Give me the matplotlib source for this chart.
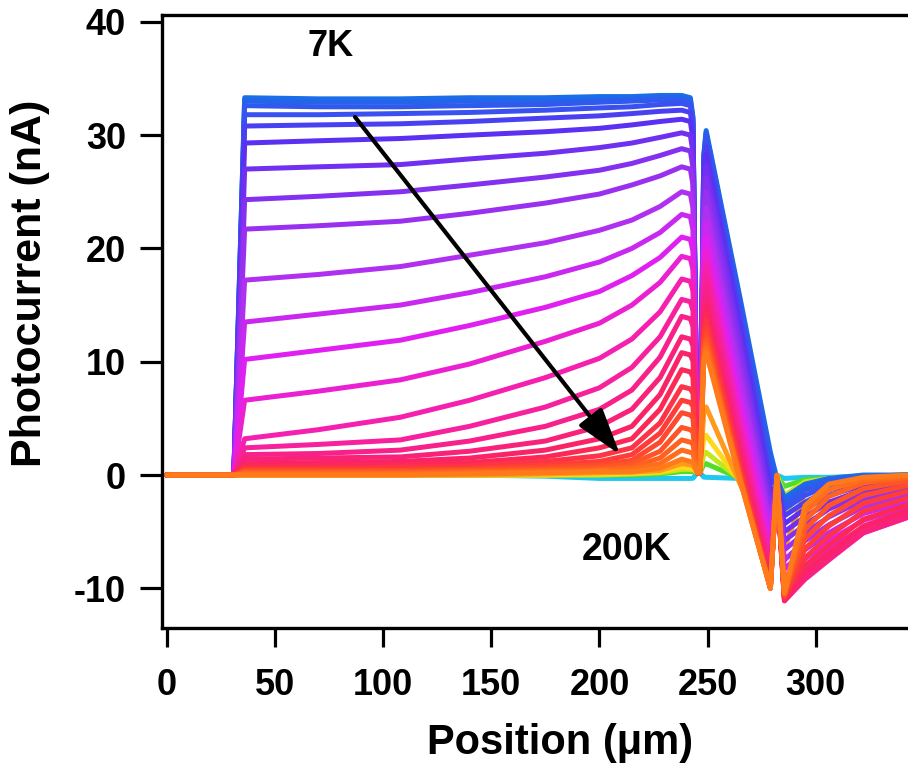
import matplotlib
matplotlib.use('Agg')
import matplotlib.pyplot as plt
from matplotlib.colors import LinearSegmentedColormap

# ---------------- data ----------------
# positions (µm) along the flat top part of each trace
x_plateau = [36, 70, 108, 140, 175, 200, 215, 228, 238, 242]
# positions (µm) of the second peak, the two dips and the tail
x_right = [249.3, 265, 279, 282, 285.5, 295, 306, 322, 343]

# 26 temperature traces (7K ... 200K) followed by 5 hot traces near zero
y_at_36 = [33.3, 33.0, 32.6, 31.8, 30.8, 29.3, 27.0, 24.3, 21.7, 17.2, 13.5, 10.2, 6.6,
           3.2, 2.4, 1.8, 1.4, 1.0, 0.8, 0.6, 0.5, 0.4, 0.3, 0.2, 0.1, 0.0,
           0.0, 0.0, 0.0, 0.0, 0.0]
y_at_70 = [33.2, 32.9, 32.5, 31.8, 30.9, 29.5, 27.2, 24.6, 22.0, 17.7, 14.2, 11.0, 7.4,
           4.0, 2.7, 1.9, 1.5, 1.1, 0.8, 0.6, 0.5, 0.4, 0.3, 0.2, 0.1, 0.0,
           0.0, 0.0, 0.0, 0.0, 0.0]
y_at_108 = [33.2, 32.9, 32.5, 31.9, 31.0, 29.7, 27.4, 25.0, 22.4, 18.4, 15.0, 11.9, 8.4,
            5.1, 3.1, 2.2, 1.6, 1.2, 0.9, 0.7, 0.5, 0.4, 0.3, 0.2, 0.1, 0.0,
            0.0, 0.0, 0.0, 0.0, 0.0]
y_at_140 = [33.3, 33.0, 32.6, 32.0, 31.2, 30.0, 27.9, 25.6, 23.1, 19.4, 16.1, 13.2, 9.8,
            6.6, 4.3, 3.0, 2.1, 1.5, 1.1, 0.8, 0.6, 0.5, 0.4, 0.3, 0.2, 0.1,
            0.0, 0.0, 0.0, 0.0, 0.0]
y_at_175 = [33.3, 33.0, 32.7, 32.2, 31.5, 30.3, 28.4, 26.3, 24.0, 20.5, 17.5, 14.8, 11.8,
            8.6, 6.0, 4.3, 3.0, 2.2, 1.6, 1.2, 0.9, 0.7, 0.5, 0.4, 0.3, 0.2,
            0.1, 0.0, 0.0, 0.0, -0.1]
y_at_200 = [33.4, 33.1, 32.9, 32.4, 31.7, 30.6, 28.9, 26.9, 24.8, 21.6, 18.8, 16.2, 13.4,
            10.3, 7.7, 5.8, 4.3, 3.2, 2.4, 1.7, 1.2, 0.9, 0.7, 0.5, 0.4, 0.3,
            0.2, 0.1, 0.0, 0.0, -0.3]
y_at_215 = [33.4, 33.2, 33.0, 32.5, 31.9, 30.9, 29.3, 27.5, 25.6, 22.5, 20.0, 17.6, 15.0,
            12.0, 9.5, 7.5, 5.8, 4.3, 3.2, 2.4, 1.8, 1.3, 1.0, 0.7, 0.5, 0.3,
            0.25, 0.15, 0.1, 0.0, -0.3]
y_at_228 = [33.5, 33.3, 33.1, 32.7, 32.1, 31.2, 29.8, 28.2, 26.4, 23.7, 21.4, 19.2, 17.0,
            14.4, 12.2, 10.4, 8.6, 7.1, 5.8, 4.6, 3.7, 2.9, 2.1, 1.5, 1.0, 0.6,
            0.4, 0.3, 0.2, 0.1, -0.3]
y_at_238 = [33.5, 33.3, 33.1, 32.8, 32.2, 31.4, 30.2, 28.8, 27.2, 25.0, 23.0, 21.0, 19.3,
            17.3, 15.5, 14.0, 12.2, 10.8, 9.3, 7.8, 6.6, 5.5, 4.2, 3.1, 2.2, 1.4,
            1.0, 0.7, 0.5, 0.3, -0.3]
y_at_242 = [33.3, 33.1, 32.9, 32.6, 32.0, 31.2, 30.0, 28.6, 27.0, 24.8, 22.8, 20.8, 19.1,
            17.1, 15.3, 13.8, 12.0, 10.6, 9.1, 7.6, 6.4, 5.3, 4.0, 2.9, 2.0, 1.2,
            0.9, 0.6, 0.5, 0.3, -0.3]

peak2 = [30.4, 30.2, 30.0, 29.6, 29.0, 28.3, 27.3, 26.2, 25.0, 23.6, 22.3, 21.0, 19.8,
         18.6, 17.5, 16.6, 15.7, 14.9, 14.2, 13.6, 13.0, 12.5, 12.0, 11.6, 11.2, 10.8,
         6.0, 3.5, 2.0, 1.0, -0.2]
y_at_265 = [15.6, 15.3, 15.0, 14.5, 13.8, 13.0, 12.0, 11.0, 9.8, 8.6, 7.4, 6.3, 5.3,
            4.3, 3.5, 2.8, 2.2, 1.6, 1.1, 0.7, 0.3, 0.0, -0.2, -0.3, -0.4, -0.5,
            -0.8, -0.6, -0.4, -0.3, -0.3]
dip1 = [2.0, 1.5, 1.0, 0.3, -0.5, -1.3, -2.2, -3.0, -3.8, -4.6, -5.4, -6.2, -7.0,
        -7.7, -8.3, -8.8, -9.2, -9.5, -9.7, -9.8, -9.9, -10.0, -10.0, -10.0, -10.0, -10.0,
        -6.5, -3.5, -1.8, -0.9, -0.3]
spike = [-0.3, -0.5, -0.6, -0.8, -0.9, -1.0, -1.0, -1.0, -1.0, -1.0, -1.0, -1.0, -1.0,
         -0.9, -0.8, -0.7, -0.6, -0.5, -0.4, -0.3, -0.3, -0.2, -0.2, -0.1, -0.1, 0.0,
         0.0, 0.0, 0.0, -0.1, 0.0]
dip2 = [-2.0, -2.3, -2.6, -3.0, -3.6, -4.3, -5.0, -5.8, -6.6, -7.5, -8.3, -9.1, -9.8,
        -10.4, -10.8, -11.1, -11.1, -11.0, -10.9, -10.8, -10.7, -10.6, -10.5, -10.5, -10.4, -10.4,
        -6.5, -3.5, -1.8, -1.0, -0.3]
tail_295 = [-0.8, -1.0, -1.3, -1.8, -2.4, -3.0, -3.7, -4.4, -5.1, -5.8, -6.6, -7.4, -8.1,
            -8.7, -9.1, -9.2, -9.0, -8.6, -8.0, -7.3, -6.5, -5.6, -4.8, -4.0, -3.3, -2.7,
            -1.5, -0.8, -0.6, -0.4, -0.2]
tail_306 = [-0.3, -0.4, -0.6, -0.9, -1.3, -1.8, -2.4, -3.0, -3.7, -4.4, -5.1, -5.8, -6.5,
            -7.0, -7.4, -7.5, -7.3, -6.9, -6.2, -5.4, -4.5, -3.6, -2.7, -1.9, -1.3, -0.8,
            -0.4, -0.3, -0.3, -0.3, -0.2]
tail_322 = [0.0, -0.1, -0.2, -0.4, -0.6, -0.9, -1.3, -1.7, -2.2, -2.8, -3.4, -4.0, -4.6,
            -5.0, -5.1, -5.1, -4.9, -4.5, -3.9, -3.2, -2.5, -1.8, -1.2, -0.7, -0.4, -0.2,
            -0.1, -0.1, -0.1, -0.2, -0.1]
tail_343 = [0.0, 0.0, 0.0, -0.1, -0.2, -0.4, -0.6, -0.9, -1.3, -1.8, -2.3, -2.8, -3.3,
            -3.6, -3.7, -3.7, -3.5, -3.1, -2.6, -2.0, -1.4, -0.9, -0.5, -0.2, -0.1, 0.0,
            0.0, 0.0, 0.0, -0.1, 0.0]

n_main = 26   # 7K ... 200K
label_low, label_high = "7K", "200K"

# ---------------- styling ----------------
plt.rcParams['font.family'] = ['Liberation Sans', 'DejaVu Sans']
plt.rcParams['font.weight'] = 'bold'
plt.rcParams['axes.unicode_minus'] = False

main_cmap = LinearSegmentedColormap.from_list('warm', [
    (0.00, '#1a6ee8'), (0.12, '#3a50f0'), (0.20, '#5a30f2'), (0.28, '#8530f0'),
    (0.36, '#b030f0'), (0.44, '#e020f0'), (0.52, '#f520b0'), (0.60, '#f8208a'),
    (0.70, '#fb2460'), (0.80, '#fe3c38'), (0.90, '#ff5a22'), (1.00, '#ff7a1a')])
hot_colors = ['#ff9a1a', '#ffd81a', '#c0e81a', '#50dc2a', '#20c8f0']

fig = plt.figure(figsize=(9.08, 7.65), dpi=100)
ax = fig.add_axes([162 / 908, 137 / 765, 762 / 908, 613 / 765])

plateau_cols = [y_at_36, y_at_70, y_at_108, y_at_140, y_at_175, y_at_200,
                y_at_215, y_at_228, y_at_238, y_at_242]
right_cols = [peak2, y_at_265, dip1, spike, dip2, tail_295, tail_306, tail_322, tail_343]


def trace(i):
    xs = [0, 31] + x_plateau + [243.2, 245.3, 246.5, 248.2] + x_right
    v_end = y_at_242[i]
    h = peak2[i]
    ys = ([0.0, 0.0] + [c[i] for c in plateau_cols]
          + [0.95 * v_end, 0.2, 0.2, 0.93 * h] + [c[i] for c in right_cols])
    return xs, ys


n_all = len(y_at_36)
# hot traces underneath
for i in range(n_all - 1, n_main - 1, -1):
    xs, ys = trace(i)
    ax.plot(xs, ys, color=hot_colors[i - n_main], lw=3.6, solid_joinstyle='round',
            solid_capstyle='round', zorder=1)
for i in range(n_main):
    xs, ys = trace(i)
    ax.plot(xs, ys, color=main_cmap(i / (n_main - 1)), lw=3.6, solid_joinstyle='round',
            solid_capstyle='round', zorder=2 + i * 0.01)

ax.set_xlim(-2.2, 350)
ax.set_ylim(-13.5, 40.6)
ax.set_xticks([0, 50, 100, 150, 200, 250, 300])
ax.set_yticks([-10, 0, 10, 20, 30, 40])
for s in ax.spines.values():
    s.set_linewidth(2.4)
ax.tick_params(axis='both', direction='out', width=2.3, labelsize=26)
ax.tick_params(axis='y', length=16, pad=10)
ax.tick_params(axis='x', length=14, pad=15)
for lab in ax.get_xticklabels() + ax.get_yticklabels():
    lab.set_fontweight('bold')

fig.text(560 / 908, 1 - 743 / 765, 'Position (μm)', ha='center', va='center',
         fontsize=30, fontweight='bold')
fig.text(30 / 908, 1 - 283 / 765, 'Photocurrent (nA)', ha='center', va='center',
         rotation=90, fontsize=31, fontweight='bold')

ax.text(75.5, 37.8, label_low, ha='center', va='center', fontsize=26, fontweight='bold')
ax.text(212.7, -6.6, label_high, ha='center', va='center', fontsize=27, fontweight='bold')
ax.annotate('', xy=(209.5, 1.8), xytext=(87, 31.6),
            arrowprops=dict(arrowstyle='-|>,head_length=0.9,head_width=0.28',
                            lw=3, color='black', mutation_scale=32,
                            shrinkA=0, shrinkB=0), zorder=10)

fig.savefig('out.png', dpi=100)
